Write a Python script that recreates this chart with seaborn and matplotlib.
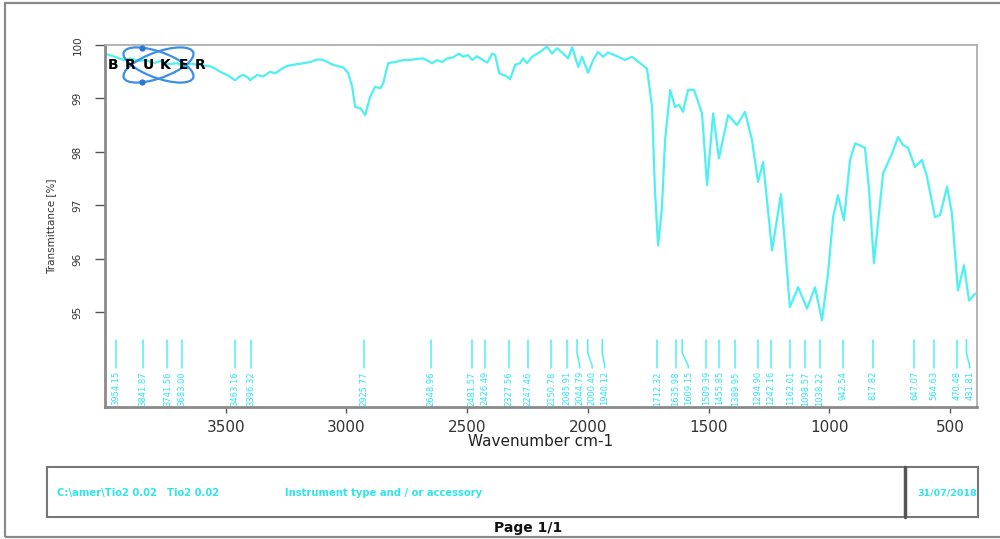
import numpy as np
import pandas as pd
import matplotlib
matplotlib.use('Agg')
import matplotlib.pyplot as plt
import seaborn as sns
from matplotlib.patches import Ellipse, Rectangle

# spectrum
wavenumber = [3995, 3958, 3925, 3895, 3860, 3830, 3800, 3770, 3740, 3700,
              3683, 3647, 3610, 3564, 3540, 3523, 3495, 3461, 3440, 3428,
              3410, 3399, 3370, 3345, 3316, 3295, 3266, 3245, 3220, 3179,
              3150, 3121, 3096, 3055, 3013, 2993, 2976, 2964, 2943, 2922,
              2902, 2881, 2860, 2848, 2827, 2790, 2765, 2736, 2707, 2682,
              2645, 2624, 2604, 2583, 2558, 2533, 2517, 2496, 2479, 2459,
              2434, 2417, 2396, 2384, 2367, 2334, 2322, 2301, 2281, 2268,
              2252, 2231, 2198, 2169, 2148, 2127, 2102, 2082, 2065, 2053,
              2040, 2024, 1999, 1978, 1958, 1937, 1916, 1879, 1846, 1817,
              1792, 1763, 1755, 1734, 1722, 1709, 1693, 1680, 1659, 1639,
              1622, 1606, 1585, 1560, 1527, 1506, 1481, 1457, 1419, 1382,
              1349, 1320, 1295, 1274, 1237, 1200, 1163, 1129, 1092, 1059,
              1030, 1005, 984, 964, 939, 914, 893, 852, 835, 815,
              777, 740, 715, 695, 674, 645, 616, 595, 562, 541,
              512, 492, 467, 442, 421, 396]
transmittance = [99.83, 99.78, 99.72, 99.75, 99.70, 99.72, 99.66, 99.70, 99.64, 99.66,
                 99.62, 99.65, 99.63, 99.60, 99.55, 99.50, 99.44, 99.34, 99.42, 99.44,
                 99.40, 99.34, 99.44, 99.41, 99.50, 99.47, 99.56, 99.61, 99.63, 99.66,
                 99.68, 99.73, 99.72, 99.63, 99.58, 99.48, 99.22, 98.84, 98.82, 98.69,
                 99.03, 99.22, 99.19, 99.28, 99.66, 99.69, 99.72, 99.72, 99.74, 99.75,
                 99.66, 99.72, 99.68, 99.75, 99.77, 99.84, 99.78, 99.81, 99.72, 99.79,
                 99.72, 99.67, 99.84, 99.81, 99.47, 99.41, 99.36, 99.63, 99.66, 99.75,
                 99.66, 99.78, 99.87, 99.97, 99.84, 99.94, 99.84, 99.75, 99.96, 99.78,
                 99.59, 99.78, 99.48, 99.72, 99.87, 99.78, 99.86, 99.79, 99.72, 99.78,
                 99.69, 99.59, 99.56, 98.84, 97.28, 96.25, 96.97, 98.22, 99.16, 98.84,
                 98.88, 98.75, 99.16, 99.16, 98.72, 97.38, 98.72, 97.88, 98.69, 98.50,
                 98.75, 98.22, 97.44, 97.81, 96.16, 97.21, 95.10, 95.47, 95.07, 95.47,
                 94.85, 95.73, 96.78, 97.19, 96.72, 97.85, 98.16, 98.08, 97.28, 95.92,
                 97.60, 97.97, 98.28, 98.13, 98.08, 97.72, 97.85, 97.53, 96.78, 96.82,
                 97.35, 96.85, 95.41, 95.88, 95.22, 95.35]

peak_labels = ['3954.15', '3841.87', '3741.56', '3683.00', '3463.16', '3396.32',
               '2925.77', '2648.96', '2481.57', '2426.49', '2327.56', '2247.46',
               '2150.78', '2085.91', '2044.79', '2000.40', '1940.12', '1712.32',
               '1635.98', '1609.15', '1509.39', '1455.85', '1389.95', '1294.90',
               '1242.16', '1162.01', '1098.57', '1038.22', '942.54', '817.82',
               '647.07', '564.63', '470.48', '431.81']

x_ticks = [3500, 3000, 2500, 2000, 1500, 1000, 500]
y_ticks = [95, 96, 97, 98, 99, 100]

footer_texts = ['C:\\amer\\Tio2 0.02', 'Tio2 0.02', 'Instrument type and / or accessory']
footer_date = '31/07/2018'

cyan = '#4ef0f2'
cyan_text = '#2fe4ee'

sns.set_style('white')
plt.rcParams['font.family'] = ['DejaVu Sans']

W, H = 1000, 539
fig = plt.figure(figsize=(10, 5.39), dpi=100)


def fx(px):
    return px / W


def fy(py):
    return 1 - py / H


ax = fig.add_axes([fx(105), fy(407), fx(977) - fx(105), fy(45) - fy(407)])

df = pd.DataFrame({'wavenumber': wavenumber, 'transmittance': transmittance})
sns.lineplot(data=df, x='wavenumber', y='transmittance', sort=False,
             color=cyan, lw=1.6, ax=ax)

ax.set_xlim(4000, 388)
ax.set_ylim(93.23, 100)
ax.set_xticks(x_ticks)
ax.set_yticks(y_ticks)
ax.set_yticklabels([str(v) for v in y_ticks], rotation=90, va='center')
ax.tick_params(axis='x', labelsize=11, colors='#333333', length=4, width=1, pad=5)
ax.tick_params(axis='y', labelsize=7.5, colors='#333333', length=7, width=1, pad=9)
ax.tick_params(axis='both', direction='out', bottom=True, left=True, color='#555555')
ax.set_xlabel('Wavenumber cm-1', fontsize=11, color='#222222', labelpad=0)
ax.set_ylabel('Transmittance [%]', fontsize=7.5, color='#333333', labelpad=12)

for side in ['left', 'bottom']:
    ax.spines[side].set_color('#8a8a8a')
    ax.spines[side].set_linewidth(2)
for side in ['top', 'right']:
    ax.spines[side].set_color('#a8a8a8')
    ax.spines[side].set_linewidth(1.2)

# peak markers with labels pushed apart where they crowd
peak_pos = [float(p) for p in peak_labels]
label_x = []
for w in peak_pos:
    if label_x and label_x[-1] - w < 52:
        label_x.append(label_x[-1] - 52)
    else:
        label_x.append(w)

for w, lx, txt in zip(peak_pos, label_x, peak_labels):
    ax.plot([w, w, lx, lx], [94.49, 94.24, 94.0, 93.96], color=cyan, lw=1.1)
    ax.text(lx, 93.90, txt, rotation=90, ha='center', va='top',
            fontsize=6, color=cyan_text)

# Bruker logo
lg = fig.add_axes([fx(105), fy(92), fx(110), 50 / H])
lg.set_xlim(0, 110)
lg.set_ylim(0, 50)
lg.axis('off')
cx, cy = 53.5, 27
a, b = 37, 13
for ang in [20, -20]:
    lg.add_patch(Ellipse((cx, cy), 2 * a, 2 * b, angle=ang, fill=False,
                         ec='#3b8fe6', lw=1.6))
for ang, t in [(-20, 2.2), (20, -2.2)]:
    th = np.radians(ang)
    dx = a * np.cos(t) * np.cos(th) - b * np.sin(t) * np.sin(th)
    dy = a * np.cos(t) * np.sin(th) + b * np.sin(t) * np.cos(th)
    lg.plot(cx + dx, cy + dy, 'o', color='#2a78d6', ms=3.5)
for i, ch in enumerate('BRUKER'):
    lg.text(8 + i * 17.5, cy, ch, ha='center', va='center', fontsize=10,
            fontweight='heavy', color='black')

# page frame and footer box
fig.add_artist(Rectangle((fx(5), fy(537)), 1.1, fy(3) - fy(537), fill=False,
                         ec='#8a8a8a', lw=1.6, transform=fig.transFigure))
fig.add_artist(Rectangle((fx(47), fy(517)), fx(978) - fx(47), fy(467) - fy(517),
                         fill=False, ec='#777777', lw=1.5, transform=fig.transFigure))
fig.add_artist(plt.Line2D([fx(905), fx(905)], [fy(517), fy(467)], color='#555555',
                          lw=2.5, transform=fig.transFigure))

for px, txt in zip([57, 167, 285], footer_texts):
    fig.text(fx(px), fy(493), txt, ha='left', va='center', fontsize=7.2,
             fontweight='bold', color=cyan_text)
fig.text(fx(977), fy(493), footer_date, ha='right', va='center', fontsize=6.8,
         fontweight='bold', color=cyan_text)
fig.text(fx(528), fy(528), 'Page 1/1', ha='center', va='center', fontsize=10,
         fontweight='bold', color='#111111')

fig.savefig('out.png', dpi=100)
